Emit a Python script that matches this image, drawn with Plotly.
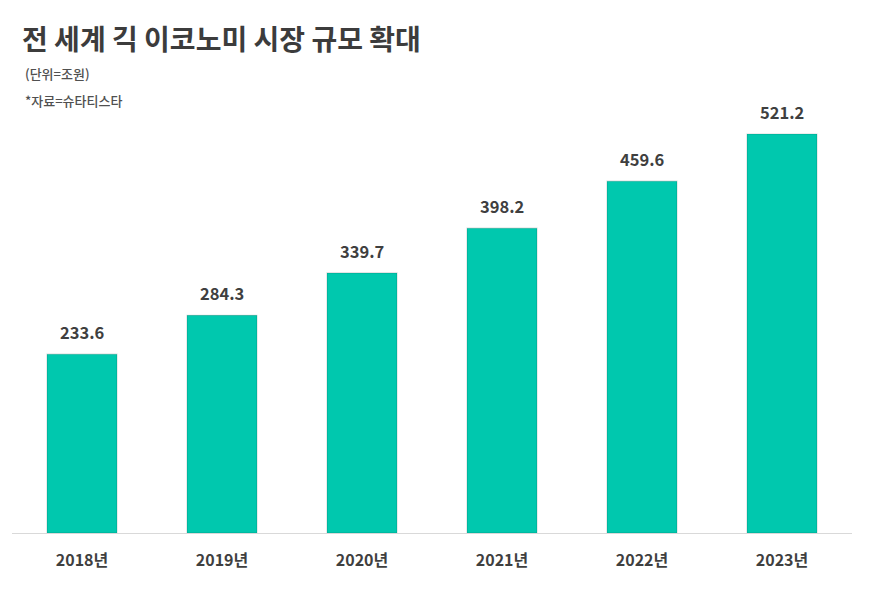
import plotly.graph_objects as go

years = ["2018년", "2019년", "2020년", "2021년", "2022년", "2023년"]
values = [233.6, 284.3, 339.7, 398.2, 459.6, 521.2]
value_labels = ["233.6", "284.3", "339.7", "398.2", "459.6", "521.2"]

title_text = "전 세계 긱 이코노미 시장 규모 확대"
unit_text = "(단위=조원)"
source_text = "*자료=슈타티스타"

FONT = "Noto Sans CJK KR"
TEXT = "#3f3f3f"
BAR = "#00c8ae"

W, H = 886, 592
OFF = 8  # page body offset
ml, mr, mt, mb = 12 - OFF, W - 852 + OFF, 100 - OFF, H - 533 + OFF
plot_h = H - mt - mb
plot_w = W - ml - mr

def py(pix):
    return 1 + (mt - (pix - OFF)) / plot_h

def px(pix):
    return ((pix - OFF) - ml) / plot_w

fig = go.Figure()
fig.add_trace(go.Bar(
    x=years, y=values,
    marker=dict(color=BAR, line=dict(color="rgba(0,0,0,0.14)", width=1.2)),
    hoverinfo="skip",
))

annotations = []
for yr, v, lab in zip(years, values, value_labels):
    annotations.append(dict(x=yr, y=v, text="<b>" + lab + "</b>", showarrow=False,
                            yshift=22, font=dict(family=FONT, size=16.5, color=TEXT)))

annotations += [
    dict(xref="paper", yref="paper", x=px(20), y=py(38), xanchor="left", yanchor="middle",
         text="<b>" + title_text + "</b>", showarrow=False,
         font=dict(family=FONT, size=28, color="#3c3c3c")),
    dict(xref="paper", yref="paper", x=px(23), y=py(74), xanchor="left", yanchor="middle",
         text=unit_text, showarrow=False,
         font=dict(family=FONT, size=13, color="#505050", weight=500)),
    dict(xref="paper", yref="paper", x=px(23), y=py(101), xanchor="left", yanchor="middle",
         text=source_text, showarrow=False,
         font=dict(family=FONT, size=13, color="#505050", weight=500)),
]

fig.update_layout(
    width=W, height=H,
    margin=dict(l=ml, r=mr, t=mt, b=mb),
    paper_bgcolor="white", plot_bgcolor="white",
    bargap=0.5,
    showlegend=False,
    annotations=annotations,
    font=dict(family=FONT, color=TEXT),
)
fig.update_xaxes(
    showline=True, linecolor="#d9d9d9", linewidth=1.2,
    showgrid=False, ticks="", ticklabelstandoff=13,
    tickfont=dict(family=FONT, size=16, color=TEXT, weight="bold"),
    fixedrange=True,
)
fig.update_yaxes(
    range=[0, plot_h / (399 / 521.2)],
    visible=False, showgrid=False, zeroline=False, fixedrange=True,
)

fig.write_html("out.html", config={"displayModeBar": False})
